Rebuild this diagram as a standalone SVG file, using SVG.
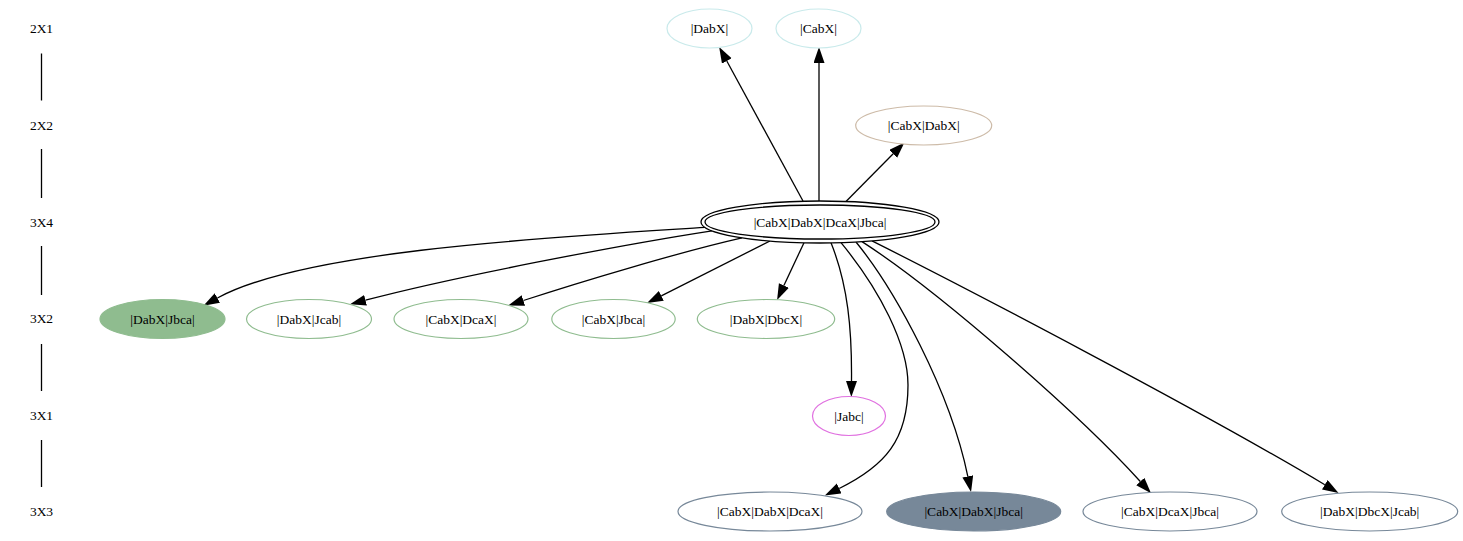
<svg xmlns="http://www.w3.org/2000/svg" width="1463" height="541" viewBox="0 0 1463 541">
<style>
text{font-family:"Liberation Serif","Times New Roman",serif;font-size:13.5px;fill:#000;text-anchor:middle}
.e{fill:none;stroke:#000;stroke-width:1.3;marker-end:url(#ah)}
.cy{fill:#fff;stroke:#c9eaeb;stroke-width:1.2}
.tan{fill:#fff;stroke:#cdbba8;stroke-width:1.2}
.gr{fill:#fff;stroke:#8fbc8f;stroke-width:1.2}
.grf{fill:#8fbc8f;stroke:#8fbc8f;stroke-width:1.2}
.vi{fill:#fff;stroke:#e070e0;stroke-width:1.2}
.sl{fill:#fff;stroke:#778899;stroke-width:1.2}
.slf{fill:#778899;stroke:#778899;stroke-width:1.2}
.main{fill:#fff;stroke:#000;stroke-width:1.3}
.rank{stroke:#000;stroke-width:1.3}
</style>
<defs>
<marker id="ah" markerUnits="userSpaceOnUse" markerWidth="16" markerHeight="12" refX="0" refY="5.5" orient="auto">
<path d="M0,0 L16,5.5 L0,11 z" fill="#000"/>
</marker>
</defs>
<rect width="1463" height="541" fill="#fff"/>
<g id="ranks">
<text x="41.5" y="33">2X1</text>
<text x="41.5" y="129.7">2X2</text>
<text x="41.5" y="226.5">3X4</text>
<text x="41.5" y="323">3X2</text>
<text x="41.5" y="419.7">3X1</text>
<text x="41.5" y="516">3X3</text>
<line class="rank" x1="41.5" y1="53.5" x2="41.5" y2="100.5"/>
<line class="rank" x1="41.5" y1="149" x2="41.5" y2="198"/>
<line class="rank" x1="41.5" y1="246" x2="41.5" y2="295"/>
<line class="rank" x1="41.5" y1="344" x2="41.5" y2="391"/>
<line class="rank" x1="41.5" y1="440" x2="41.5" y2="487"/>
</g>
<g id="connectors">
<path class="e" d="M803,201 L726.8,61"/>
<path class="e" d="M819,201 L819,63"/>
<path class="e" d="M846,201.5 L893.2,153.8"/>
<path class="e" d="M705,227.4 C555,237 305,250 217.4,298"/>
<path class="e" d="M712,230.8 C620,245 452.5,277.2 365.5,300.2"/>
<path class="e" d="M742,237.9 C680,252 580,282 523.4,300.5"/>
<path class="e" d="M770,241 L661.3,295.8"/>
<path class="e" d="M804,242.7 L783.9,285.5"/>
<path class="e" d="M831,242.8 C848,285 852,330 851.5,381"/>
<path class="e" d="M841,242.7 C880,290 908,345 908,385 C908,440 885,466 839.2,488.5"/>
<path class="e" d="M856,242 C895,290 950,390 967.8,476.3"/>
<path class="e" d="M862,241.6 C940,292 1080,415 1140.3,481.5"/>
<path class="e" d="M872,240.9 C960,285 1200,410 1324.8,484.7"/>
</g>
<g id="n_DabX"><ellipse class="cy" cx="709.5" cy="28.5" rx="42.5" ry="19.5"/><text x="709.5" y="33">|DabX|</text></g>
<g id="n_CabX"><ellipse class="cy" cx="818.5" cy="28.5" rx="42.5" ry="19.5"/><text x="818.5" y="33">|CabX|</text></g>
<g id="n_CabX_DabX"><ellipse class="tan" cx="923.7" cy="125.5" rx="68" ry="19.5"/><text x="923.7" y="130">|CabX|DabX|</text></g>
<g id="n_main"><ellipse class="main" cx="820" cy="222" rx="119" ry="21"/><ellipse class="main" cx="820" cy="222" rx="115" ry="17"/><text x="820" y="226.5">|CabX|DabX|DcaX|Jbca|</text></g>
<g id="n_DabX_Jbca"><ellipse class="grf" cx="162.5" cy="319" rx="62.5" ry="19.5"/><text x="162.5" y="323.5">|DabX|Jbca|</text></g>
<g id="n_DabX_Jcab"><ellipse class="gr" cx="309" cy="319" rx="62.5" ry="19.5"/><text x="309" y="323.5">|DabX|Jcab|</text></g>
<g id="n_CabX_DcaX"><ellipse class="gr" cx="461" cy="319" rx="67" ry="19.5"/><text x="461" y="323.5">|CabX|DcaX|</text></g>
<g id="n_CabX_Jbca"><ellipse class="gr" cx="613.5" cy="319" rx="61.7" ry="19.5"/><text x="613.5" y="323.5">|CabX|Jbca|</text></g>
<g id="n_DabX_DbcX"><ellipse class="gr" cx="766" cy="319" rx="68.7" ry="19.5"/><text x="766" y="323.5">|DabX|DbcX|</text></g>
<g id="n_Jabc"><ellipse class="vi" cx="849" cy="416" rx="36.5" ry="19.5"/><text x="849" y="420.5">|Jabc|</text></g>
<g id="n_CabX_DabX_DcaX"><ellipse class="sl" cx="770" cy="511.5" rx="92" ry="19.5"/><text x="770" y="516">|CabX|DabX|DcaX|</text></g>
<g id="n_CabX_DabX_Jbca"><ellipse class="slf" cx="973.7" cy="511.5" rx="87" ry="19.5"/><text x="973.7" y="516">|CabX|DabX|Jbca|</text></g>
<g id="n_CabX_DcaX_Jbca"><ellipse class="sl" cx="1170" cy="511.5" rx="87" ry="19.5"/><text x="1170" y="516">|CabX|DcaX|Jbca|</text></g>
<g id="n_DabX_DbcX_Jcab"><ellipse class="sl" cx="1369.7" cy="511.5" rx="88" ry="19.5"/><text x="1369.7" y="516">|DabX|DbcX|Jcab|</text></g>
</svg>
